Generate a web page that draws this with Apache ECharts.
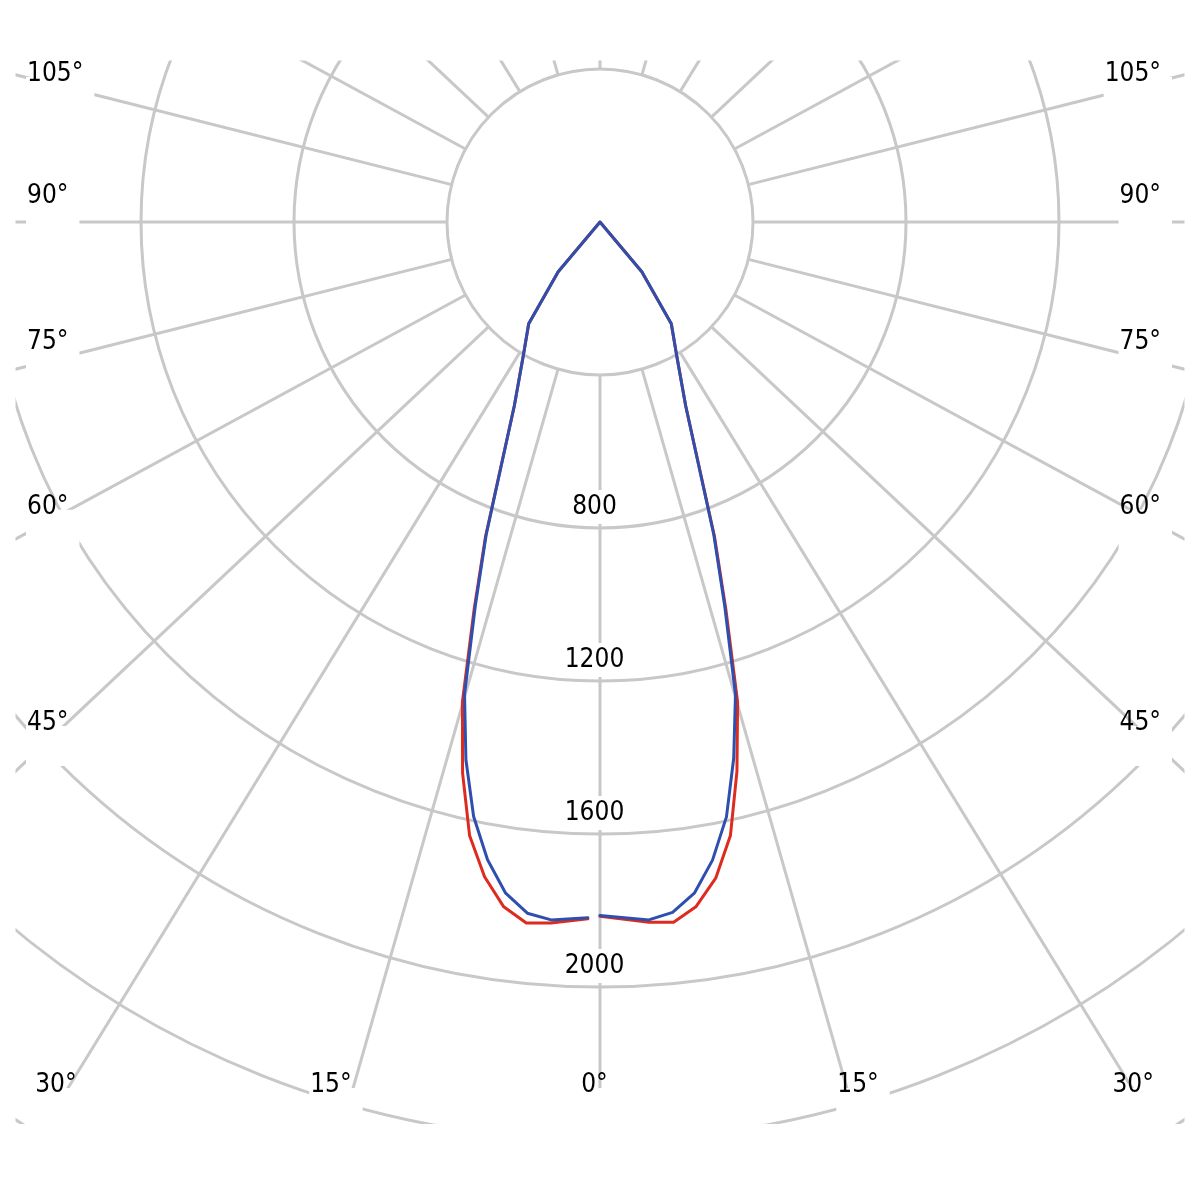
<!DOCTYPE html>
<html><head><meta charset="utf-8">
<script src="https://cdn.jsdelivr.net/npm/echarts@6/dist/echarts.min.js"></script>
<style>html,body{margin:0;padding:0;background:#fff}#c{width:1200px;height:1200px}</style>
</head><body><div id="c"></div>
<script>
// ---- data (luminous intensity, cd) ----
const rightAngles = [0, 4, 6, 8, 10, 12, 14, 16, 18, 20, 25, 30, 35, 40, 45, 60, 75, 90];
const leftAngles  = [1, 4, 6, 8, 10, 12, 14, 16, 18, 20, 25, 30, 35, 40, 45, 60, 75, 90];
const redRight  = [1815, 1835, 1841, 1807, 1742, 1640, 1480, 1305, 1065, 875, 530, 400, 325, 170, 0, 0, 0, 0];
const redLeft   = [1822, 1837, 1843, 1808, 1738, 1640, 1485, 1305, 1065, 875, 530, 400, 325, 170, 0, 0, 0, 0];
const blueRight = [1813, 1829, 1815, 1772, 1694, 1590, 1445, 1285, 1055, 870, 530, 400, 325, 170, 0, 0, 0, 0];
const blueLeft  = [1819, 1829, 1817, 1772, 1693, 1589, 1449, 1285, 1055, 870, 530, 400, 325, 170, 0, 0, 0, 0];
const radiusTicks = [800, 1200, 1600, 2000];
const spokeAngles = [0, 15, 30, 45, 60, 75, 90, 105, 120, 135, 150, 165, 180];
const angleLabelsSide = [105, 90, 75, 60, 45];
const angleLabelsBottom = [30, 15, 0];

// ---- layout ----
const CX = 600, CY = 222, R_IN = 153, R_OUT = 1071, V_IN = 400, V_OUT = 2800;
const CLIP = {x0: 15.5, y0: 60.5, x1: 1184.5, y1: 1124};
const FONT = "'DejaVu Sans Condensed', 'DejaVu Sans', sans-serif";
const FS = 26;
const GRID = '#c8c8c8', GRID_W = 3;
const SPOKE_STRETCH = 1.064; // the reference's spokes are drawn in a horizontally stretched frame
const RAD = Math.PI / 180;

function buildLine(angR, valR, angL, valL) {
  const d = [];
  for (let i = 0; i < angR.length; i++) d.push([valR[i], 360 - angR[i]]);
  for (let i = angL.length - 1; i >= 0; i--) d.push([valL[i], angL[i]]);
  return d;
}
function spokeDir(a) { // a: degrees from straight down
  return Math.atan2(SPOKE_STRETCH * Math.sin(a * RAD), Math.cos(a * RAD)) / RAD;
}

const mctx = document.createElement('canvas').getContext('2d');
mctx.font = FS + 'px ' + FONT;
function tw(s) { return mctx.measureText(s).width; }

const graphic = [
  {type: 'rect', shape: {x: 0, y: 0, width: 1200, height: CLIP.y0}, style: {fill: '#fff'}, z: 100, silent: true},
  {type: 'rect', shape: {x: 0, y: CLIP.y1, width: 1200, height: 1200 - CLIP.y1}, style: {fill: '#fff'}, z: 100, silent: true},
  {type: 'rect', shape: {x: 0, y: 0, width: CLIP.x0, height: 1200}, style: {fill: '#fff'}, z: 100, silent: true},
  {type: 'rect', shape: {x: CLIP.x1, y: 0, width: 1200 - CLIP.x1, height: 1200}, style: {fill: '#fff'}, z: 100, silent: true}
];
function addLabel(text, left, cy) {
  const w = tw(text), h = 22;
  const bottom = cy + h / 2;
  graphic.push({type: 'rect', shape: {x: left - 1, y: bottom - 5, width: w + 12, height: 40},
    style: {fill: '#fff'}, z: 101, silent: true});
  graphic.push({type: 'text', x: left, y: cy + 3, style: {text: text, font: FS + 'px ' + FONT,
    fill: '#000', textVerticalAlign: 'middle', textAlign: 'left'}, z: 102, silent: true});
}
const DX = 553;
angleLabelsSide.forEach(a => {
  let y = CY + DX * Math.tan((90 - a - 3) * RAD);
  y = Math.max(y, 71);
  const t = a + '°';
  addLabel(t, 27, y);
  addLabel(t, 1161 - tw(t), y);
});
angleLabelsBottom.forEach(a => {
  const t = a + '°';
  const off = a === 0 ? 0 : 862 * Math.tan((a + 2) * RAD);
  const xl = 594.5 - off, xr = 594.5 + off;
  addLabel(t, xl - tw(t) / 2, 1082);
  if (a !== 0) addLabel(t, xr - tw(t) / 2, 1082);
});

const series = [];
// spokes (left side value a, right side value 360-a)
spokeAngles.forEach(a => {
  const sides = (a === 0 || a === 180) ? [a] : [a, 360 - a];
  sides.forEach(v => {
    const d = spokeDir(v);
    series.push({type: 'line', coordinateSystem: 'polar', polarIndex: 0, symbol: 'none', silent: true, z: 1,
      data: [[V_IN, d], [V_OUT, d]], lineStyle: {color: GRID, width: GRID_W}, emphasis: {disabled: true}});
  });
});
series.push(
  {type: 'line', coordinateSystem: 'polar', polarIndex: 1, symbol: 'none', z: 5, silent: true,
    data: buildLine(rightAngles, redRight, leftAngles, redLeft),
    lineStyle: {color: '#dd2b1f', width: 3, join: 'round', cap: 'round'}},
  {type: 'line', coordinateSystem: 'polar', polarIndex: 1, symbol: 'none', z: 6, silent: true,
    data: buildLine(rightAngles, blueRight, leftAngles, blueLeft),
    lineStyle: {color: '#2e4fae', width: 3, join: 'round', cap: 'round'}},
  {type: 'scatter', coordinateSystem: 'polar', polarIndex: 1, symbolSize: 0, z: 7, silent: true,
    itemStyle: {opacity: 1},
    data: radiusTicks.map(v => [v, 0]),
    label: {show: true, position: 'inside', offset: [-5.5, -21], formatter: p => String(p.value[0]),
      fontFamily: FONT, fontSize: FS, lineHeight: 26, color: '#000', opacity: 1,
      backgroundColor: '#fff', padding: [4, 4]}}
);

const chart = echarts.init(document.getElementById('c'), null, {renderer: 'canvas'});
chart.setOption({
  animation: false,
  backgroundColor: '#fff',
  polar: [
    {center: [CX, CY], radius: [R_IN, R_OUT]},
    {center: [CX, CY], radius: [0, R_OUT]}
  ],
  angleAxis: [
    {polarIndex: 0, type: 'value', min: 0, max: 360, interval: 15, startAngle: 270, clockwise: true,
      axisLine: {show: false}, axisTick: {show: false}, axisLabel: {show: false}, splitLine: {show: false}},
    {polarIndex: 1, type: 'value', min: 0, max: 360, startAngle: 270, clockwise: true, show: false}
  ],
  radiusAxis: [
    {polarIndex: 0, type: 'value', min: V_IN, max: V_OUT, interval: 400,
      axisLine: {show: false}, axisTick: {show: false}, axisLabel: {show: false},
      splitLine: {show: true, lineStyle: {color: GRID, width: GRID_W}}},
    {polarIndex: 1, type: 'value', min: 0, max: V_OUT, show: false}
  ],
  graphic: graphic,
  series: series
});
</script></body></html>
